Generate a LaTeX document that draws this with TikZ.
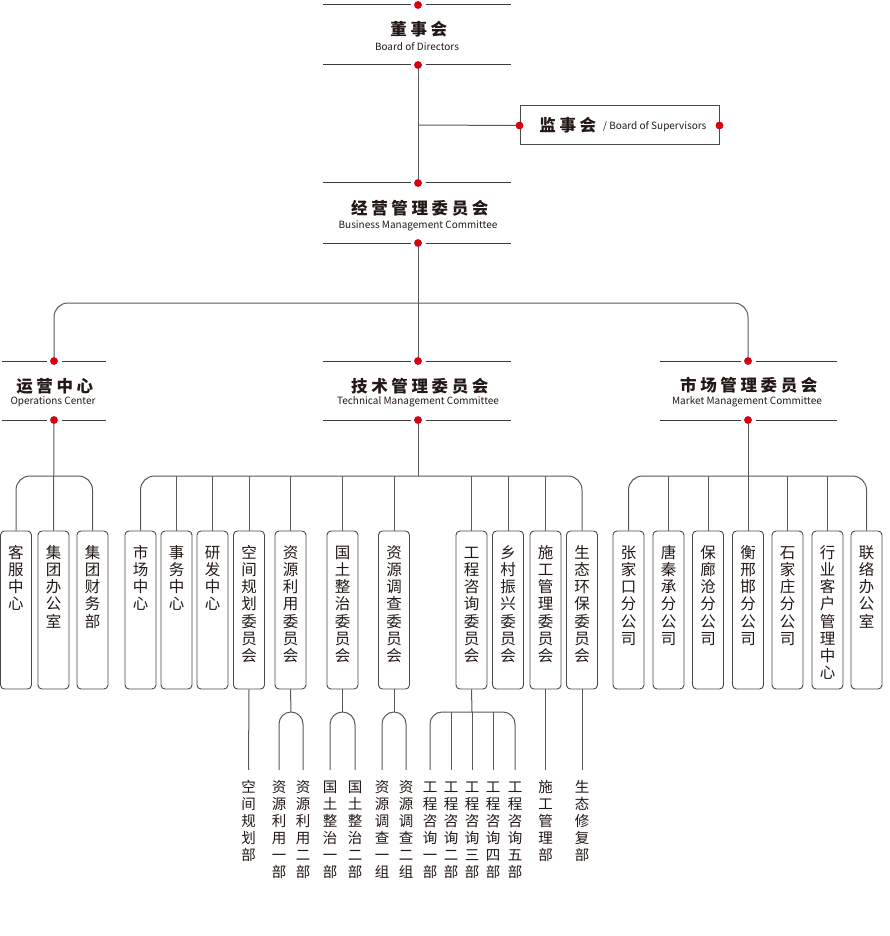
\documentclass[tikz,border=0pt]{standalone}
\usepackage{fontspec}
\setmainfont{Noto Sans CJK SC}
\newfontfamily\hdcjk[LetterSpace=22]{Noto Sans CJK SC}
\definecolor{ink}{HTML}{231815}
\definecolor{hdl}{HTML}{3E3A39}
\definecolor{linec}{HTML}{595757}
\definecolor{boxc}{HTML}{4C4948}
\definecolor{redc}{HTML}{D7000F}
\makeatletter
\newcommand\vstk[2]{\vbox{\baselineskip=#1\relax\lineskiplimit=-50pt\lineskip=0pt\vst@a#2\relax}}
\def\vst@a#1{\ifx\relax#1\else\hbox to 1em{\hss\vrule height .88em depth .12em width 0pt\relax#1\hss}\expandafter\vst@a\fi}
\makeatother
\newcommand\boxfont{\fontsize{15.5}{17.2}\selectfont}
\newcommand\botfont{\fontsize{14.5}{16.9}\selectfont}
\tikzset{
  conn/.style={draw=linec, line width=1pt},
  hline/.style={draw=hdl, line width=1pt},
  rdot/.style={circle, fill=redc, inner sep=0pt, minimum size=7.5pt},
  ubox/.style={draw=boxc, line width=0.9pt, rounded corners=4pt, minimum width=31pt, minimum height=158pt, inner sep=0pt},
  hdzh/.style={font=\hdcjk\bfseries\fontsize{16.5}{16.5}\selectfont, text=ink, inner sep=0pt, text height=14.5pt, text depth=2pt, xshift=1.8pt},
  hden/.style={font=\fontsize{10}{10}\selectfont, text=ink, inner sep=0pt, anchor=base},
  vtx/.style={inner sep=0pt, text=ink, anchor=north},
}
\newcommand\hdrule[3]{%
  \draw[hline] ([xshift=-#2pt]#1.center) -- ([xshift=-7.5pt]#1.center);
  \draw[hline] ([xshift=7.5pt]#1.center) -- ([xshift=#3pt]#1.center);}
\newcommand\ubx[3]{%
  \node[ubox] (#1) at (#2,610) {};
  \node[vtx, font=\boxfont] (#1t) at (#2,544.5) {\vstk{17.2pt}{#3}};}
\newcommand\btx[3]{%
  \node[vtx, font=\botfont] (#1) at (#2,779.75) {\vstk{16.9pt}{#3}};}
\begin{document}
\begin{tikzpicture}[x=1pt, y=-1pt]
\useasboundingbox (0,0) rectangle (890,936);

% ---------- dots (positions) ----------
\node[rdot] (D1a) at (418,5) {};
\node[rdot] (D1b) at (418,65) {};
\node[rdot] (D2a) at (418,183) {};
\node[rdot] (D2b) at (418,243) {};
\node[draw=boxc, line width=1pt, minimum width=199pt, minimum height=39pt, inner sep=0pt] (sup) at (619.5,125.5) {};
\node[rdot] (S1) at (sup.west) {};
\node[rdot] (S2) at (sup.east) {};
\node[rdot] (O1) at (54,361) {};
\node[rdot] (O2) at (54,420) {};
\node[rdot] (T1) at (418,361) {};
\node[rdot] (T2) at (418,420) {};
\node[rdot] (M1) at (748,361) {};
\node[rdot] (M2) at (748,420) {};

% ---------- header rules ----------
\hdrule{D1a}{95}{93}
\hdrule{D1b}{95}{93}
\hdrule{D2a}{95}{93}
\hdrule{D2b}{95}{93}
\hdrule{O1}{52}{52}
\hdrule{O2}{52}{52}
\hdrule{T1}{95}{93}
\hdrule{T2}{95}{93}
\hdrule{M1}{88}{89}
\hdrule{M2}{88}{89}

% ---------- header texts ----------
\node[hdzh] (dsh) at (417,29.5) {董事会};
\node[hden] (dshe) at (417,50.5) {Board of Directors};
\node[hdzh] (jy) at (418,208) {经营管理委员会};
\node[hden] (jye) at (418,228.5) {Business Management Committee};
\node[hdzh] (yy) at (53,386) {运营中心};
\node[hden] (yye) at (53,404.5) {Operations Center};
\node[hdzh] (js) at (418,386) {技术管理委员会};
\node[hden] (jse) at (418,404.5) {Technical Management Committee};
\node[hdzh] (sc) at (747,385.5) {市场管理委员会};
\node[hden] (sce) at (747,404.5) {Market Management Committee};
\node[hdzh] (jsh) at (566,125) {监事会};
\node[hden, anchor=base west] (jshe) at (603,129.3) {/ Board of Supervisors};

% ---------- boxes ----------
\ubx{o1}{16}{客服中心}
\ubx{o2}{53.5}{集团办公室}
\ubx{o3}{92.5}{集团财务部}
\ubx{c1}{140.5}{市场中心}
\ubx{c2}{176.5}{事务中心}
\ubx{c3}{212.5}{研发中心}
\ubx{c4}{249}{空间规划委员会}
\ubx{c5}{290.5}{资源利用委员会}
\ubx{c6}{342.5}{国土整治委员会}
\ubx{c7}{394}{资源调查委员会}
\ubx{c8}{471.5}{工程咨询委员会}
\ubx{c9}{508}{乡村振兴委员会}
\ubx{c10}{545.5}{施工管理委员会}
\ubx{c11}{582}{生态环保委员会}
\ubx{m1}{628.5}{张家口分公司}
\ubx{m2}{668.5}{唐秦承分公司}
\ubx{m3}{708}{保廊沧分公司}
\ubx{m4}{748}{衡邢邯分公司}
\ubx{m5}{787.5}{石家庄分公司}
\ubx{m6}{827.5}{行业客户管理中心}
\ubx{m7}{866.5}{联络办公室}

% ---------- bottom texts ----------
\btx{u1}{248.5}{空间规划部}
\btx{u2}{279}{资源利用一部}
\btx{u3}{303}{资源利用二部}
\btx{u4}{330}{国土整治一部}
\btx{u5}{355}{国土整治二部}
\btx{u6}{382}{资源调查一组}
\btx{u7}{406}{资源调查二组}
\btx{u8}{430}{工程咨询一部}
\btx{u9}{451}{工程咨询二部}
\btx{u10}{472}{工程咨询三部}
\btx{u11}{493}{工程咨询四部}
\btx{u12}{515}{工程咨询五部}
\btx{u13}{545.5}{施工管理部}
\btx{u14}{582}{生态修复部}

% ---------- junction coordinates ----------
\coordinate (jsup) at (418,125);
\coordinate (jtop) at (418,303);
\coordinate (jo) at (54,476);
\coordinate (jt) at (418,476);
\coordinate (jm) at (748,476);
\coordinate (a5) at (291,712);
\coordinate (a6) at (342.5,712);
\coordinate (a7) at (394,712);
\coordinate (a8) at (472,712);
\foreach \n in {u1,u2,u3,u4,u5,u6,u7,u8,u9,u10,u11,u12,u13,u14}
  \coordinate (\n e) at ([yshift=10pt]\n.north);

% ---------- connectors ----------
\begin{scope}[conn]
\draw (D1b.center) -- (D2a.center);
\draw (jsup) -- (S1.center);
\draw (D2b.center) -- (T1.center);
\draw[rounded corners=14pt] (O1.center) |- (jtop) -| (M1.center);
% operations
\draw (O2.center) -- (o2.north);
\draw[rounded corners=14pt] (o1.north) |- (jo) -| (o3.north);
% technical
\draw (T2.center) -- (jt);
\draw[rounded corners=14pt] (c1.north) |- (jt) -| (c11.north);
\foreach \b in {c2,c3,c4,c5,c6,c7,c8,c9,c10}
  \draw (\b.north) -- (\b.north |- jt);
% market
\draw (M2.center) -- (m4.north);
\draw[rounded corners=14pt] (m1.north) |- (jm) -| (m7.north);
\foreach \b in {m2,m3,m5,m6}
  \draw (\b.north) -- (\b.north |- jm);
% lower level
\draw (c4.south) -- (u1e);
\draw (c5.south |- c5.south) -- (a5);
\draw (u2e) -- ([yshift=-12pt]u2e |- a5) arc[start angle=180, end angle=0, radius=12pt] -- (u3e);
\draw (c6.south) -- (a6);
\draw (u4e) -- ([yshift=-12.5pt]u4e |- a6) arc[start angle=180, end angle=0, radius=12.5pt] -- (u5e);
\draw (c7.south) -- (a7);
\draw (u6e) -- ([yshift=-12pt]u6e |- a7) arc[start angle=180, end angle=0, radius=12pt] -- (u7e);
\draw (c8.south) -- (a8);
\draw[rounded corners=12pt] (u8e) |- (a8) -| (u12e);
\draw (u9e) -- (u9e |- a8);
\draw (a8) -- (u10e);
\draw (u11e) -- (u11e |- a8);
\draw (c10.south) -- (u13e);
\draw (c11.south) -- (u14e);
\end{scope}

% redraw dots on top
\foreach \d in {D1a,D1b,D2a,D2b,S1,S2,O1,O2,T1,T2,M1,M2}
  \fill[redc] (\d.center) circle (3.75pt);
\end{tikzpicture}
\end{document}
